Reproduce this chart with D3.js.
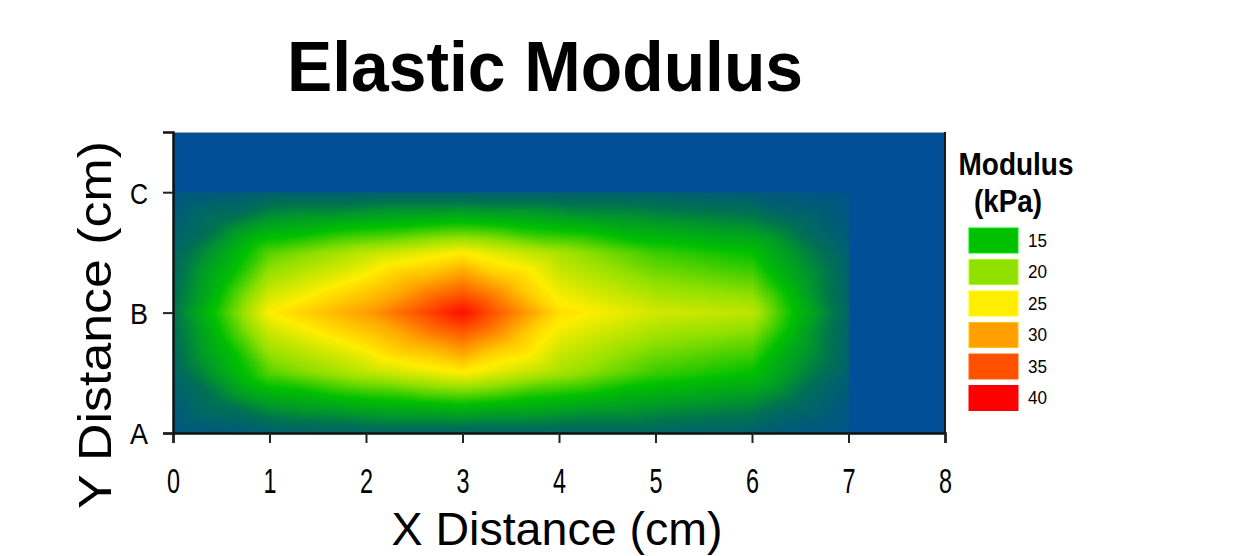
<!DOCTYPE html>
<html>
<head>
<meta charset="utf-8">
<script src="https://cdn.jsdelivr.net/npm/d3@7"></script>
<style>
  body { margin: 0; background: #fff; }
  text { font-family: "Liberation Sans", Arial, sans-serif; fill: #000; }
</style>
</head>
<body>
<div id="chart"></div>
<script>
// Data
// ==============================
var xPositions = [0, 1, 2, 3, 4, 5, 6, 7];          // cm
var yPositions = [0, 0.5, 1, 1.5, 2];                // A .. C
var yCategories = ["A", "B", "C"];
var xTicks = [0, 1, 2, 3, 4, 5, 6, 7, 8];

// modulus (kPa) per row, bottom row first
var rowA  = [3, 5, 6, 6, 6, 6, 5, 2];
var rowAB = [6, 18, 22, 25, 21, 17, 15, 5];
var rowB  = [8, 25, 30, 39, 26, 23, 22, 6];
var rowBC = [6, 18, 22, 25, 21, 17, 15, 5];
var rowC  = [3, 5, 5, 5, 5, 5, 4, 2];
var grid = [rowA, rowAB, rowB, rowBC, rowC];

var legendValues = [15, 20, 25, 30, 35, 40];

// Chart area
// ==============================
var svgWidth = 1247, svgHeight = 556;
var plot = { left: 173, right: 945, top: 132, bottom: 433 };

var svg = d3.select("#chart").append("svg")
  .attr("width", svgWidth)
  .attr("height", svgHeight);

var xScale = d3.scaleLinear().domain([0, 8]).range([plot.left, plot.right]);
var yScale = d3.scaleLinear().domain([0, 2.5]).range([plot.bottom, plot.top]);

var colorScale = d3.scaleLinear()
  .domain([0, 4, 8, 11, 15, 20, 25, 30, 35, 40])
  .range(["#004f97", "#005a7a", "#007350", "#009a28", "#00c000",
          "#90e000", "#ffee00", "#ffa000", "#ff5000", "#ff0000"])
  .clamp(true);

// Interpolate on triangles (each cell split in four round its centre)
// ==============================
function valueAt(x, y) {
  var i = Math.min(Math.max(d3.bisectRight(xPositions, x) - 1, 0), xPositions.length - 2);
  var j = Math.min(Math.max(d3.bisectRight(yPositions, y) - 1, 0), yPositions.length - 2);
  var u = (x - xPositions[i]) / (xPositions[i + 1] - xPositions[i]);
  var v = (y - yPositions[j]) / (yPositions[j + 1] - yPositions[j]);
  var a = grid[j][i], b = grid[j][i + 1], c = grid[j + 1][i + 1], d = grid[j + 1][i];
  var m = (a + b + c + d) / 4;
  var s, t;
  if (v <= u && v <= 1 - u) {        // bottom
    s = u; t = v;
    return (1 - s - t) * a + (s - t) * b + 2 * t * m;
  } else if (u >= v && u >= 1 - v) { // right
    s = v; t = 1 - u;
    return (1 - s - t) * b + (s - t) * c + 2 * t * m;
  } else if (v >= u && v >= 1 - u) { // top
    s = u; t = 1 - v;
    return (1 - s - t) * d + (s - t) * c + 2 * t * m;
  }
  s = v; t = u;                      // left
  return (1 - s - t) * a + (s - t) * d + 2 * t * m;
}

// background of the plot
svg.append("rect")
  .attr("x", plot.left).attr("y", plot.top)
  .attr("width", plot.right - plot.left)
  .attr("height", plot.bottom - plot.top)
  .attr("fill", colorScale(0));

// paint the field into a canvas, then put it in the svg
var xMax = d3.max(xPositions), yMax = d3.max(yPositions);
var imgW = Math.round(xScale(xMax) - xScale(0));
var imgH = Math.round(yScale(0) - yScale(yMax));
var canvas = document.createElement("canvas");
canvas.width = imgW;
canvas.height = imgH;
var ctx = canvas.getContext("2d");
var img = ctx.createImageData(imgW, imgH);
for (var py = 0; py < imgH; py++) {
  var yv = yScale.invert(yScale(yMax) + py + 0.5);
  for (var px = 0; px < imgW; px++) {
    var xv = xScale.invert(xScale(0) + px + 0.5);
    var col = d3.rgb(colorScale(valueAt(xv, yv)));
    var k = (py * imgW + px) * 4;
    img.data[k] = col.r;
    img.data[k + 1] = col.g;
    img.data[k + 2] = col.b;
    img.data[k + 3] = 255;
  }
}
ctx.putImageData(img, 0, 0);

svg.append("image")
  .attr("x", xScale(0))
  .attr("y", yScale(yMax))
  .attr("width", imgW)
  .attr("height", imgH)
  .attr("preserveAspectRatio", "none")
  .attr("href", canvas.toDataURL());

// frame
svg.append("line")
  .attr("x1", plot.left).attr("x2", plot.right)
  .attr("y1", plot.top + 0.5).attr("y2", plot.top + 0.5)
  .attr("stroke", "#9aa6b4").attr("stroke-width", 1);
svg.append("line")
  .attr("x1", plot.right).attr("x2", plot.right)
  .attr("y1", plot.top).attr("y2", plot.bottom)
  .attr("stroke", "#1a1a1a").attr("stroke-width", 2);

// Axes
// ==============================
var xAxis = d3.axisBottom(xScale)
  .tickValues(xTicks)
  .tickSize(10)
  .tickPadding(25)
  .tickFormat(d3.format("d"));

var yAxis = d3.axisLeft(yScale)
  .tickValues([0, 1, 2])
  .tickSize(10)
  .tickPadding(15)
  .tickFormat(function(d) { return yCategories[d]; });

var gx = svg.append("g")
  .attr("transform", `translate(0, ${plot.bottom})`)
  .call(xAxis);
gx.select(".domain").attr("stroke-width", 2.5).attr("stroke", "#111");
gx.selectAll(".tick line").attr("stroke-width", 2).attr("stroke", "#222");
gx.selectAll(".tick text")
  .style("font-size", "35px")
  .attr("textLength", 13)
  .attr("lengthAdjust", "spacingAndGlyphs");

var gy = svg.append("g")
  .attr("transform", `translate(${plot.left}, 0)`)
  .call(yAxis);
gy.select(".domain").attr("stroke-width", 2.5).attr("stroke", "#111");
gy.selectAll(".tick line").attr("stroke-width", 2).attr("stroke", "#222");
gy.selectAll(".tick text")
  .style("font-size", "30px")
  .attr("dy", "0.36em")
  .attr("textLength", 18)
  .attr("lengthAdjust", "spacingAndGlyphs");

// Titles
// ==============================
svg.append("text")
  .attr("x", 545)
  .attr("y", 91)
  .attr("text-anchor", "middle")
  .style("font-size", "70px")
  .style("font-weight", "bold")
  .attr("textLength", 516)
  .attr("lengthAdjust", "spacingAndGlyphs")
  .text("Elastic Modulus");

svg.append("text")
  .attr("x", 557)
  .attr("y", 545)
  .attr("text-anchor", "middle")
  .style("font-size", "47px")
  .attr("textLength", 331)
  .attr("lengthAdjust", "spacingAndGlyphs")
  .text("X Distance (cm)");

svg.append("text")
  .attr("transform", "translate(111, 325) rotate(-90)")
  .attr("text-anchor", "middle")
  .style("font-size", "47px")
  .attr("textLength", 368)
  .attr("lengthAdjust", "spacingAndGlyphs")
  .text("Y Distance (cm)");

// Legend
// ==============================
svg.append("text")
  .attr("x", 1016).attr("y", 175)
  .attr("text-anchor", "middle")
  .style("font-size", "31px")
  .style("font-weight", "bold")
  .attr("textLength", 115)
  .attr("lengthAdjust", "spacingAndGlyphs")
  .text("Modulus");

svg.append("text")
  .attr("x", 1008).attr("y", 212)
  .attr("text-anchor", "middle")
  .style("font-size", "31px")
  .style("font-weight", "bold")
  .attr("textLength", 68)
  .attr("lengthAdjust", "spacingAndGlyphs")
  .text("(kPa)");

var legendY = d3.scaleLinear()
  .domain([0, legendValues.length - 1])
  .range([228, 385.5]);

var legendItems = svg.append("g").selectAll("g")
  .data(legendValues)
  .join("g")
  .attr("transform", (d, i) => `translate(969, ${legendY(i)})`);

legendItems.append("rect")
  .attr("width", 49)
  .attr("height", 25)
  .attr("fill", d => colorScale(d))
  .attr("stroke", d => d3.color(colorScale(d)).brighter(0.6))
  .attr("stroke-width", 1);

legendItems.append("text")
  .attr("x", 59)
  .attr("y", 12.5)
  .attr("dy", "0.36em")
  .style("font-size", "18px")
  .attr("textLength", 19)
  .attr("lengthAdjust", "spacingAndGlyphs")
  .text(d => d);
</script>
</body>
</html>
